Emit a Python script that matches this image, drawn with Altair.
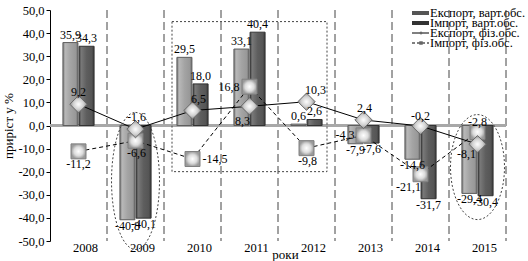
import altair as alt
import pandas as pd

# ---------------- data ----------------
years = ["2008", "2009", "2010", "2011", "2012", "2013", "2014", "2015"]
export_value = [35.9, -40.8, 29.5, 33.1, 0.6, -7.9, -14.6, -29.4]
import_value = [34.3, -40.1, 18.0, 40.4, 2.6, -7.6, -31.7, -30.4]
export_volume = [9.2, -1.6, 6.5, 8.3, 10.3, 2.4, -0.2, -8.1]
import_volume = [-11.2, -6.6, -14.5, 16.8, -9.8, -4.3, -21.1, -2.8]
series_names = ["Експорт, варт.обс.", "Імпорт, варт.обс.",
                "Експорт, фіз.обс.", "Імпорт, фіз.обс."]
y_ticks = [-50, -40, -30, -20, -10, 0, 10, 20, 30, 40, 50]

# label placement for line markers (dx, dy, align) -- style only
exp_vol_lab = [(0, -12, "center"), (1, -12, "center"), (6, -11, "center"), (-7, 15, "center"),
               (9, -12, "center"), (1, -12, "center"), (0, -10, "center"), (-11, 10, "center")]
imp_vol_lab = [(0, 13, "center"), (1, 12, "center"), (10, 0, "left"), (-10, 0, "right"),
               (1, 13, "center"), (-9, 0, "right"), (-12, 13, "center"), (0, -10, "center")]

# annotation anchors (year, centre value)
annot_years = ["2011", "2009", "2015"]
annot_centre = [12.5, -24.0, -18.0]


def fmt(v):
    return f"{v:.1f}".replace(".", ",")


FONT = "Liberation Serif"
bar_keys = ["E", "I"]

bars = pd.DataFrame({
    "year": years * 2,
    "s": ["E"] * len(years) + ["I"] * len(years),
    "v": export_value + import_value,
})
bars["t"] = bars["v"].map(fmt)

vol = pd.DataFrame({"year": years, "ev": export_volume, "iv": import_volume})
vol["et"] = vol["ev"].map(fmt)
vol["it"] = vol["iv"].map(fmt)

# ---------------- scales / axes ----------------
xscale = alt.Scale(domain=years, paddingInner=0, paddingOuter=0)
yscale = alt.Scale(domain=[-50, 50], nice=False, zero=False)
xaxis = alt.Axis(title="роки", labelAngle=0, domain=False, ticks=False, tickSize=0,
                 labelPadding=0, labelOffset=7, labelFont=FONT, labelFontSize=12.5,
                 labelColor="black", titleFont=FONT, titleFontSize=13,
                 titleFontWeight="normal", titleColor="black", titleX=235, titleY=17,
                 titleBaseline="alphabetic", titleAlign="center", grid=False)
yaxis = alt.Axis(values=y_ticks, format=".1f",
                 labelExpr="replace(replace(datum.label, '.', ','), '\u2212', '-')",
                 tickSize=4, tickColor="black", domainColor="black", labelFont=FONT,
                 labelFontSize=12.5, labelColor="black", labelPadding=2,
                 title="приріст у %", titleFont=FONT, titleFontSize=13,
                 titleFontWeight="normal", titleColor="black", titlePadding=2, grid=False)
xoff_scale = alt.Scale(domain=bar_keys, paddingInner=0.07, paddingOuter=0.8)


def X(**kw):
    return alt.X("year:N", scale=xscale, axis=xaxis, **kw)


def Y(field):
    return alt.Y(f"{field}:Q", scale=yscale, axis=yaxis)


XO = alt.XOffset("s:N", scale=xoff_scale)


def grad(stops, radial=False):
    gs = [alt.GradientStop(color=c, offset=o) for o, c in stops]
    if radial:
        return alt.Gradient(gradient="radial", stops=gs)
    return alt.Gradient(gradient="linear", stops=gs, x1=0, x2=1, y1=0, y2=0)


light_fill = grad([(0, "#7a7a7a"), (0.15, "#b8b8b8"), (0.5, "#a4a4a4"), (0.85, "#989898"), (1, "#707070")])
dark_fill = grad([(0, "#444444"), (0.15, "#787878"), (0.5, "#5e5e5e"), (0.85, "#555555"), (1, "#383838")])

base_years = pd.DataFrame({"year": years})

grid = alt.Chart(base_years).mark_rule(color="#444", strokeWidth=1, strokeDash=[8, 4]).encode(
    x=X(bandPosition=1))

zero = alt.Chart(pd.DataFrame({"z": [0]})).mark_rule(color="#a8a8a8", strokeWidth=3).encode(
    y=Y("z"))

bar_e = alt.Chart(bars[bars.s == "E"]).mark_bar(fill=light_fill, stroke="#5e5e5e", strokeWidth=1).encode(
    x=X(), xOffset=XO, y=Y("v"))
bar_i = alt.Chart(bars[bars.s == "I"]).mark_bar(fill=dark_fill, stroke="#333333", strokeWidth=1).encode(
    x=X(), xOffset=XO, y=Y("v"))

bar_txt_pos = alt.Chart(bars[bars.v >= 0]).mark_text(
    font=FONT, fontSize=12, baseline="bottom", dy=-1, color="black").encode(
    x=X(), xOffset=XO, y=Y("v"), text="t:N")
bar_txt_neg = alt.Chart(bars[bars.v < 0]).mark_text(
    font=FONT, fontSize=12, baseline="top", dy=1, color="black").encode(
    x=X(), xOffset=XO, y=Y("v"), text="t:N")

line_e = alt.Chart(vol).mark_line(color="black", strokeWidth=1).encode(x=X(), y=Y("ev"))
line_i = alt.Chart(vol).mark_line(color="black", strokeWidth=1, strokeDash=[4, 3]).encode(x=X(), y=Y("iv"))

diamond_fill = grad([(0, "#ffffff"), (0.6, "#d0d0d0"), (1, "#8c8c8c")], radial=True)
square_fill = grad([(0, "#ffffff"), (0.6, "#dcdcdc"), (1, "#9a9a9a")], radial=True)

pts_i = alt.Chart(vol).mark_point(shape="square", filled=True, size=225, fill=square_fill,
                                   stroke="#808080", strokeWidth=1, opacity=1).encode(x=X(), y=Y("iv"))
pts_e = alt.Chart(vol).mark_point(shape="diamond", filled=True, size=300, fill=diamond_fill,
                                   stroke="#6a6a6a", strokeWidth=1, opacity=1).encode(x=X(), y=Y("ev"))

lab_layers = []
for i in range(len(years)):
    dx, dy, al = exp_vol_lab[i]
    lab_layers.append(alt.Chart(vol.iloc[[i]]).mark_text(
        font=FONT, fontSize=12, dx=dx, dy=dy, align=al, baseline="middle", color="black").encode(
        x=X(), y=Y("ev"), text="et:N"))
    dx, dy, al = imp_vol_lab[i]
    lab_layers.append(alt.Chart(vol.iloc[[i]]).mark_text(
        font=FONT, fontSize=12, dx=dx, dy=dy, align=al, baseline="middle", color="black").encode(
        x=X(), y=Y("iv"), text="it:N"))

# annotations: dotted frame and ellipses
annot = pd.DataFrame({"year": annot_years, "c": annot_centre})
rect_path = "M-1,-0.968L1,-0.968L1,0.968L-1,0.968Z"
ell1 = "M0,-1A0.35,1,0,1,1,0,1A0.35,1,0,1,1,0,-1Z"
ell2 = "M0,-1A0.514,1,0,1,1,0,1A0.514,1,0,1,1,0,-1Z"
ann_layers = []
for i, (shape, size) in enumerate([(rect_path, 155 ** 2), (ell1, 137 ** 2), (ell2, 105 ** 2)]):
    ann_layers.append(alt.Chart(annot.iloc[[i]]).mark_point(
        shape=shape, size=size, filled=False, stroke="#444", strokeWidth=1,
        strokeDash=[2, 2], opacity=1).encode(x=X(), y=Y("c")))

# manual legend (pixel positions inside the plot frame)
leg_df = pd.DataFrame({"name": series_names})
leg_layers = []
rows_y = [3, 13, 23, 33]
for i, name in enumerate(series_names):
    yy = rows_y[i]
    d = leg_df.iloc[[i]]
    if i < 2:
        leg_layers.append(alt.Chart(d).mark_rule(color="#555" if i == 0 else "#333", strokeWidth=4).encode(
            x=alt.value(362), x2=alt.value(379), y=alt.value(yy)))
    else:
        leg_layers.append(alt.Chart(d).mark_rule(color="black", strokeWidth=1,
                                                 strokeDash=[1, 0] if i == 2 else [3, 2]).encode(
            x=alt.value(362), x2=alt.value(379), y=alt.value(yy)))
        leg_layers.append(alt.Chart(d).mark_point(
            shape="diamond" if i == 2 else "square", filled=True, size=12, color="#666", opacity=1).encode(
            x=alt.value(371), y=alt.value(yy)))
    leg_layers.append(alt.Chart(d).mark_text(
        font=FONT, fontSize=12.5, align="left", baseline="middle", color="black").encode(
        x=alt.value(380), y=alt.value(yy), text="name:N"))

chart = alt.layer(
    grid, zero, bar_e, bar_i, line_e, line_i, pts_i, pts_e,
    bar_txt_pos, bar_txt_neg, *lab_layers, *ann_layers, *leg_layers
).properties(
    width=456, height=231,
    padding={"left": 50, "top": 10, "right": 22, "bottom": 20},
    autosize=alt.AutoSizeParams(type="none"),
    background="white",
).configure_view(stroke=None)

chart.save("out.html", embed_options={"renderer": "svg", "actions": False})
